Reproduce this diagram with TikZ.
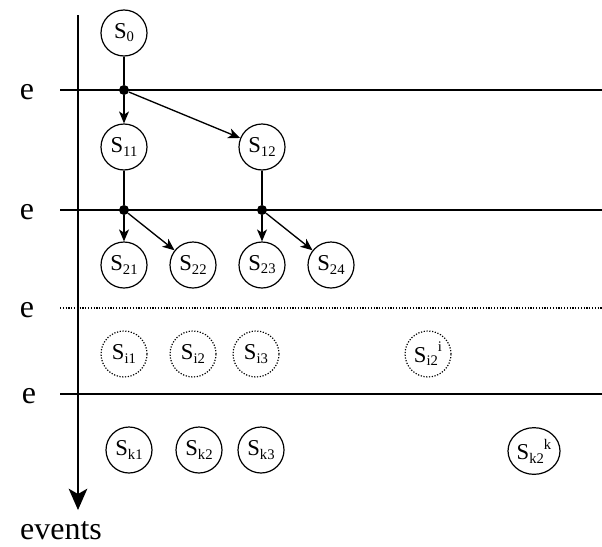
\documentclass[tikz,border=0pt]{standalone}
\usepackage{fontspec}
\setmainfont{Liberation Serif}
\usetikzlibrary{arrows.meta,shapes.geometric}

% indices of a state
\newcommand\lo[1]{\raisebox{-0.3ex}{\fontsize{11}{11}\selectfont #1}}
\newcommand\hi[1]{\raisebox{1.05ex}{\fontsize{11}{11}\selectfont #1}}

\begin{document}
\begin{tikzpicture}[
x=0.75pt, y=-0.75pt,
st/.style={draw, circle, line width=0.9pt, minimum size=34.5pt, inner sep=0pt, font=\fontsize{17}{20}\selectfont},
ghost/.style={st, dash pattern=on 0.9pt off 1.2pt},
ev/.style={font=\fontsize{24}{28}\selectfont},
hit/.style={circle, fill, inner sep=0pt, minimum size=7.5pt},
lvl/.style={line width=1pt},
tr/.style={line width=1pt, -{Stealth[length=9pt,width=7.5pt,inset=2.5pt]}}
]
\useasboundingbox (0,0) rectangle (602,546);

% ---------- TIME AXIS ----------
\coordinate (top) at (78,15);
\coordinate (tip) at (78,510);
\draw[line width=1.1pt, -{Stealth[length=16pt,width=14pt,inset=4pt]}] (top) -- (tip);
\node[ev] (events) at (61,531) {events};

% ---------- EVENT LEVELS ----------
\coordinate (l1) at (60,90);  \coordinate (r1) at (602,90);
\coordinate (l2) at (60,210); \coordinate (r2) at (602,210);
\coordinate (l3) at (60,308); \coordinate (r3) at (602,308);
\coordinate (l4) at (60,394); \coordinate (r4) at (602,394);

\draw[lvl] (l1) -- (r1);
\draw[lvl] (l2) -- (r2);
\draw[line width=0.9pt, dash pattern=on 0.9pt off 1.2pt] (l3) -- (r3);
\draw[lvl] (l4) -- (r4);

\node[ev] (e1) at (27,92) {e};
\node[ev] (e2) at (27,212) {e};
\node[ev] (e3) at (27,310) {e};
\node[ev] (e4) at (29,396) {e};

% ---------- STATES ----------
\node[st] (s0) at (124,33) {S\lo{0}};

\node[st] (s11) at (124,147) {S\lo{11}};
\node[st] (s12) at (262,147) {S\lo{12}};

\node[st] (s21) at (124,265) {S\lo{21}};
\node[st] (s22) at (193,265) {S\lo{22}};
\node[st] (s23) at (262,265) {S\lo{23}};
\node[st] (s24) at (331,265) {S\lo{24}};

% states not reached yet
\node[ghost] (si1) at (124,354) {S\lo{i1}};
\node[ghost] (si2) at (193,354) {S\lo{i2}};
\node[ghost] (si3) at (256,354) {S\lo{i3}};
\node[ghost] (sii) at (428,354) {S\lo{i2}\hi{i}};

\node[st] (sk1) at (129,450) {S\lo{k1}};
\node[st] (sk2) at (199,450) {S\lo{k2}};
\node[st] (sk3) at (261,450) {S\lo{k3}};
\node[st, ellipse, minimum width=39pt, minimum height=35pt] (skk) at (534,451) {S\lo{k2}\hi{k}};

% ---------- TRANSITIONS ----------
\node[hit] (h1) at (124,90) {};
\node[hit] (h2) at (124,210) {};
\node[hit] (h3) at (262,210) {};

\draw[lvl] (s0) -- (h1);
\draw[tr] (h1) -- (s11);
\draw[tr] (h1) -- (s12);

\draw[lvl] (s11) -- (h2);
\draw[tr] (h2) -- (s21);
\draw[tr] (h2) -- (s22);

\draw[lvl] (s12) -- (h3);
\draw[tr] (h3) -- (s23);
\draw[tr] (h3) -- (s24);

\end{tikzpicture}
\end{document}
